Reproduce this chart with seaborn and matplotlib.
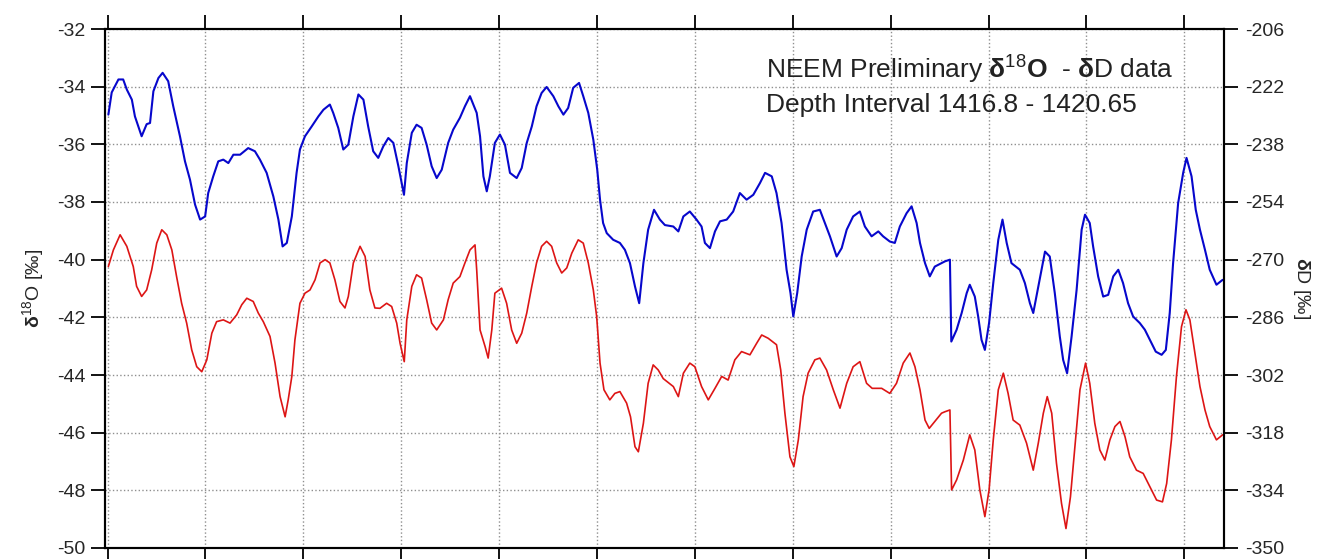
import numpy as np
import matplotlib
matplotlib.use("Agg")
import matplotlib.pyplot as plt
import seaborn as sns

# depth [m] and delta 18O [permil]
o18_depth = [
    1416.803, 1416.815, 1416.839, 1416.856, 1416.869, 1416.887, 1416.898, 1416.922, 1416.940, 1416.952,
    1416.964, 1416.982, 1416.997, 1417.017, 1417.035, 1417.059, 1417.077, 1417.095, 1417.113, 1417.131,
    1417.149, 1417.160, 1417.178, 1417.196, 1417.214, 1417.232, 1417.250, 1417.274, 1417.303, 1417.327,
    1417.345, 1417.369, 1417.393, 1417.411, 1417.426, 1417.441, 1417.459, 1417.476, 1417.488, 1417.506,
    1417.530, 1417.554, 1417.572, 1417.595, 1417.607, 1417.625, 1417.643, 1417.661, 1417.679, 1417.697,
    1417.715, 1417.732, 1417.750, 1417.768, 1417.786, 1417.804, 1417.822, 1417.840, 1417.860, 1417.870,
    1417.888, 1417.905, 1417.923, 1417.941, 1417.959, 1417.977, 1417.995, 1418.018, 1418.036, 1418.060,
    1418.078, 1418.096, 1418.120, 1418.132, 1418.144, 1418.156, 1418.167, 1418.185, 1418.203, 1418.221,
    1418.239, 1418.263, 1418.281, 1418.299, 1418.317, 1418.334, 1418.352, 1418.370, 1418.394, 1418.412,
    1418.430, 1418.447, 1418.465, 1418.486, 1418.501, 1418.519, 1418.537, 1418.551, 1418.561, 1418.572,
    1418.585, 1418.608, 1418.632, 1418.650, 1418.668, 1418.686, 1418.701, 1418.716, 1418.733, 1418.754,
    1418.775, 1418.793, 1418.823, 1418.841, 1418.859, 1418.882, 1418.906, 1418.924, 1418.936, 1418.954,
    1418.972, 1418.990, 1419.014, 1419.037, 1419.061, 1419.085, 1419.109, 1419.133, 1419.151, 1419.175,
    1419.192, 1419.210, 1419.228, 1419.242, 1419.252, 1419.266, 1419.282, 1419.300, 1419.323, 1419.347,
    1419.365, 1419.383, 1419.407, 1419.425, 1419.443, 1419.466, 1419.490, 1419.508, 1419.532, 1419.556,
    1419.573, 1419.597, 1419.615, 1419.633, 1419.657, 1419.675, 1419.693, 1419.705, 1419.723, 1419.740,
    1419.758, 1419.782, 1419.794, 1419.812, 1419.817, 1419.836, 1419.854, 1419.872, 1419.883, 1419.901,
    1419.913, 1419.925, 1419.937, 1419.952, 1419.967, 1419.985, 1420.000, 1420.015, 1420.032, 1420.062,
    1420.080, 1420.098, 1420.110, 1420.128, 1420.152, 1420.169, 1420.187, 1420.205, 1420.217, 1420.231,
    1420.247, 1420.265, 1420.283, 1420.295, 1420.312, 1420.324, 1420.342, 1420.360, 1420.378, 1420.396,
    1420.414, 1420.431, 1420.449, 1420.467, 1420.491, 1420.509, 1420.527, 1420.548, 1420.569, 1420.584,
    1420.598, 1420.610, 1420.628, 1420.646, 1420.658, 1420.676, 1420.691, 1420.706, 1420.724, 1420.741,
    1420.765, 1420.787,
]
o18_vals = [
    -34.97, -34.20, -33.75, -33.75, -34.10, -34.45, -35.03, -35.72, -35.30, -35.26,
    -34.16, -33.70, -33.52, -33.81, -34.68, -35.72, -36.59, -37.23, -38.09, -38.61,
    -38.50, -37.69, -37.11, -36.59, -36.53, -36.65, -36.36, -36.36, -36.13, -36.24,
    -36.53, -36.99, -37.81, -38.61, -39.54, -39.42, -38.50, -36.99, -36.18, -35.72,
    -35.38, -35.03, -34.80, -34.62, -34.91, -35.43, -36.18, -36.01, -35.03, -34.27,
    -34.45, -35.38, -36.24, -36.47, -36.07, -35.78, -35.95, -36.76, -37.75, -36.65,
    -35.60, -35.32, -35.43, -36.01, -36.76, -37.17, -36.88, -35.95, -35.49, -35.08,
    -34.68, -34.33, -34.91, -35.72, -37.11, -37.63, -37.11, -35.95, -35.66, -36.01,
    -36.99, -37.17, -36.82, -35.95, -35.38, -34.68, -34.22, -34.01, -34.33, -34.68,
    -34.97, -34.74, -34.04, -33.87, -34.33, -34.91, -35.84, -36.88, -37.92, -38.73,
    -39.08, -39.31, -39.42, -39.66, -40.12, -40.93, -41.51, -40.12, -38.96, -38.27,
    -38.61, -38.80, -38.85, -39.02, -38.50, -38.33, -38.61, -38.85, -39.42, -39.60,
    -39.02, -38.67, -38.61, -38.33, -37.69, -37.92, -37.75, -37.34, -36.99, -37.11,
    -37.69, -38.73, -40.35, -41.16, -41.97, -41.16, -39.89, -38.96, -38.33, -38.27,
    -38.73, -39.19, -39.89, -39.60, -38.96, -38.50, -38.33, -38.85, -39.19, -39.02,
    -39.19, -39.37, -39.42, -38.85, -38.39, -38.15, -38.73, -39.42, -40.12, -40.58,
    -40.24, -40.12, -40.06, -40.00, -42.84, -42.43, -41.85, -41.16, -40.87, -41.28,
    -41.97, -42.78, -43.13, -42.20, -40.81, -39.31, -38.61, -39.42, -40.12, -40.35,
    -40.81, -41.51, -41.85, -40.93, -39.72, -39.89, -41.16, -42.67, -43.48, -43.94,
    -42.67, -41.05, -38.96, -38.44, -38.73, -39.54, -40.58, -41.28, -41.22, -40.58,
    -40.35, -40.81, -41.51, -41.97, -42.20, -42.43, -42.78, -43.19, -43.30, -43.13,
    -41.85, -40.12, -38.04, -36.99, -36.47, -37.11, -38.27, -38.96, -39.66, -40.35,
    -40.87, -40.70,
]

# depth [m] and delta D [permil]
dd_depth = [
    1416.803, 1416.821, 1416.845, 1416.869, 1416.892, 1416.904, 1416.922, 1416.940, 1416.958, 1416.976,
    1416.994, 1417.012, 1417.030, 1417.047, 1417.065, 1417.083, 1417.101, 1417.119, 1417.137, 1417.155,
    1417.173, 1417.190, 1417.214, 1417.238, 1417.262, 1417.280, 1417.298, 1417.321, 1417.339, 1417.357,
    1417.381, 1417.399, 1417.417, 1417.435, 1417.446, 1417.459, 1417.470, 1417.488, 1417.506, 1417.524,
    1417.542, 1417.560, 1417.578, 1417.595, 1417.613, 1417.631, 1417.649, 1417.661, 1417.679, 1417.703,
    1417.721, 1417.738, 1417.756, 1417.774, 1417.798, 1417.816, 1417.834, 1417.846, 1417.861, 1417.870,
    1417.888, 1417.905, 1417.923, 1417.941, 1417.959, 1417.977, 1418.001, 1418.018, 1418.036, 1418.060,
    1418.078, 1418.096, 1418.114, 1418.120, 1418.132, 1418.150, 1418.161, 1418.174, 1418.185, 1418.209,
    1418.227, 1418.245, 1418.263, 1418.281, 1418.299, 1418.317, 1418.334, 1418.352, 1418.370, 1418.388,
    1418.406, 1418.424, 1418.442, 1418.460, 1418.483, 1418.501, 1418.519, 1418.537, 1418.549, 1418.561,
    1418.575, 1418.596, 1418.614, 1418.632, 1418.656, 1418.670, 1418.686, 1418.698, 1418.716, 1418.733,
    1418.751, 1418.769, 1418.787, 1418.823, 1418.841, 1418.859, 1418.882, 1418.900, 1418.924, 1418.948,
    1418.972, 1418.996, 1419.019, 1419.043, 1419.067, 1419.097, 1419.121, 1419.139, 1419.162, 1419.192,
    1419.207, 1419.222, 1419.240, 1419.254, 1419.270, 1419.287, 1419.305, 1419.329, 1419.347, 1419.371,
    1419.395, 1419.419, 1419.443, 1419.466, 1419.490, 1419.514, 1419.534, 1419.568, 1419.597, 1419.621,
    1419.645, 1419.669, 1419.687, 1419.705, 1419.723, 1419.738, 1419.758, 1419.782, 1419.794, 1419.812,
    1419.818, 1419.836, 1419.860, 1419.883, 1419.901, 1419.919, 1419.937, 1419.952, 1419.967, 1419.985,
    1420.003, 1420.020, 1420.038, 1420.062, 1420.086, 1420.110, 1420.128, 1420.146, 1420.160, 1420.176,
    1420.193, 1420.211, 1420.227, 1420.243, 1420.259, 1420.277, 1420.297, 1420.312, 1420.330, 1420.348,
    1420.366, 1420.384, 1420.402, 1420.420, 1420.438, 1420.455, 1420.479, 1420.503, 1420.527, 1420.551,
    1420.572, 1420.587, 1420.604, 1420.622, 1420.640, 1420.656, 1420.670, 1420.688, 1420.706, 1420.724,
    1420.741, 1420.765, 1420.787,
]
dd_vals = [
    -271.9, -267.3, -263.1, -266.3, -271.9, -277.4, -280.2, -278.4, -272.8, -265.4,
    -261.7, -263.1, -267.3, -274.7, -282.1, -287.6, -295.0, -299.7, -301.1, -297.8,
    -290.4, -287.2, -286.7, -287.6, -285.3, -282.5, -280.7, -281.6, -284.8, -287.2,
    -291.3, -298.7, -308.0, -313.6, -308.9, -302.4, -292.3, -282.1, -279.3, -278.4,
    -275.6, -270.9, -270.0, -270.9, -275.6, -281.6, -283.4, -280.2, -270.9, -266.3,
    -269.1, -278.4, -283.4, -283.5, -282.1, -283.0, -287.6, -293.2, -298.3, -286.7,
    -277.4, -274.2, -275.1, -281.1, -287.6, -289.5, -286.7, -281.1, -276.5, -274.7,
    -270.9, -267.3, -265.9, -272.8, -289.5, -294.1, -297.3, -289.5, -279.3, -277.9,
    -282.1, -289.5, -293.2, -290.4, -284.8, -277.4, -270.9, -266.3, -264.9, -266.3,
    -270.9, -273.7, -272.3, -268.2, -264.5, -265.4, -270.9, -278.4, -285.8, -298.7,
    -306.1, -308.9, -307.1, -306.6, -309.8, -313.6, -321.9, -323.3, -315.4, -304.3,
    -299.2, -300.6, -303.0, -305.2, -308.0, -301.5, -298.7, -299.7, -305.2, -308.9,
    -305.7, -302.4, -303.4, -297.8, -295.5, -296.4, -293.2, -290.9, -291.8, -293.6,
    -300.6, -312.6, -324.7, -327.4, -320.0, -308.0, -301.5, -297.8, -297.3, -300.6,
    -306.1, -311.2, -304.3, -299.7, -298.3, -304.3, -305.7, -305.7, -307.1, -304.3,
    -298.7, -295.9, -299.7, -306.1, -314.5, -316.8, -314.9, -312.6, -312.2, -311.7,
    -333.9, -331.1, -325.6, -318.6, -322.8, -333.9, -341.3, -333.9, -320.0, -306.1,
    -301.5, -307.1, -314.5, -315.9, -320.9, -328.4, -320.9, -312.6, -308.0, -312.6,
    -326.5, -337.6, -344.6, -335.8, -321.9, -306.1, -298.7, -304.3, -315.4, -322.8,
    -325.6, -320.0, -316.3, -314.9, -319.1, -324.7, -328.4, -329.3, -333.0, -336.7,
    -337.2, -332.1, -320.0, -302.4, -288.6, -283.9, -286.7, -295.9, -305.2, -311.7,
    -316.3, -320.0, -318.6,
]

x_ticks = [1416.8 + 0.35 * k for k in range(12)]
o18_ticks = list(range(-50, -31, 2))
dd_ticks = list(range(-350, -205, 16))

sns.set_style("white")
plt.rcParams["font.family"] = ["Liberation Sans", "DejaVu Sans"]
plt.rcParams["axes.unicode_minus"] = False
plt.rcParams["mathtext.fontset"] = "custom"
plt.rcParams["mathtext.rm"] = "Liberation Sans"
plt.rcParams["mathtext.bf"] = "Liberation Sans:bold"
plt.rcParams["mathtext.it"] = "Liberation Sans:italic"

fig = plt.figure(figsize=(13.32, 5.59), dpi=100)
ax = fig.add_axes([105 / 1332, 1 - 548 / 559, (1224 - 105) / 1332, (548 - 29) / 559])
ax2 = ax.twinx()

sns.lineplot(x=o18_depth, y=o18_vals, ax=ax, color="#0707cc", linewidth=1.5,
             estimator=None, sort=False)
sns.lineplot(x=dd_depth, y=dd_vals, ax=ax2, color="#dd1515", linewidth=1.2,
             estimator=None, sort=False)

ax.set_xlim(1416.791, 1420.792)
ax.set_ylim(-50, -32)
ax2.set_ylim(-350, -206)

ax.set_xticks(x_ticks)
ax.set_yticks(o18_ticks)
ax2.set_yticks(dd_ticks)
ax.set_xticklabels([])

ax.grid(True, linestyle=":", color="#8f8f8f", linewidth=1.0)
ax2.grid(False)

ax.tick_params(axis="x", which="both", top=True, bottom=True, direction="out",
               length=10, width=1.3, color="black", labelbottom=False)
ax.tick_params(axis="y", direction="out", length=10, width=1.3, color="black",
               labelsize=14, pad=4, left=True)
ax2.tick_params(axis="y", direction="out", length=10, width=1.3, color="black",
                labelsize=14, pad=5, right=True)

for a in (ax, ax2):
    for s in a.spines.values():
        s.set_color("black")
        s.set_linewidth(1.5)

ax.set_xlabel("")
ax.set_ylabel(r"$\mathbf{δ}^{18}$O [‰]", fontsize=14, labelpad=8)
ax2.set_ylabel(r"$\mathbf{δ}$D [‰]", fontsize=14, rotation=270, labelpad=20)

ax.text(0.591, 0.904,
        r"NEEM Preliminary $\mathbf{δ}^{18}\mathbf{O}$  - $\mathbf{δ}$D data",
        transform=ax.transAxes, fontsize=19, color="#222222", ha="left", va="baseline")
ax.text(0.591, 0.840, "Depth Interval 1416.8 - 1420.65",
        transform=ax.transAxes, fontsize=19, color="#222222", ha="left", va="baseline")

fig.savefig("out.png", dpi=100)
